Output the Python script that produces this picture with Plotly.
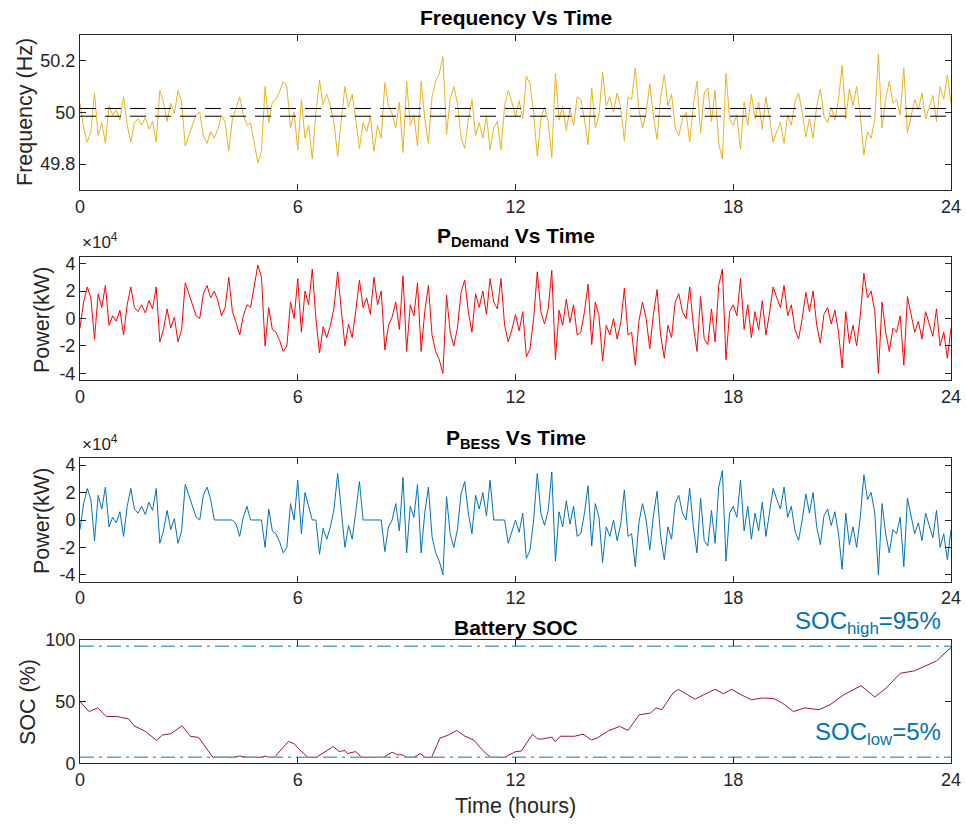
import numpy as np
import plotly.graph_objects as go

# ---------------- data ----------------
hours_tick = [0, 6, 12, 18, 24]

# frequency (Hz), sampled every 0.1 h
frequency_hz = [
    50.035, 49.94, 49.885, 49.925, 50.075, 49.91, 49.96, 49.88, 50.025, 49.99,
    50.01, 49.97, 50.06, 49.95, 49.885, 49.96, 49.975, 49.95, 49.98, 49.935,
    49.965, 49.885, 50.085, 50.04, 49.965, 50.035, 49.995, 50.085, 50.04, 49.87,
    49.91, 49.95, 49.99, 50.0, 49.91, 49.88, 49.925, 49.9, 49.935, 49.99,
    49.96, 49.85, 49.975, 50.015, 50.06, 49.99, 49.95, 49.96, 49.875, 49.805,
    49.85, 50.1, 49.96, 50.04, 50.05, 50.08, 50.12, 50.1, 49.94, 50.0,
    49.855, 50.05, 49.9, 49.95, 49.82, 50.0, 50.125, 50.03, 50.07, 50.025,
    49.96, 49.83, 49.97, 50.1, 50.02, 50.07, 49.97, 49.86, 49.96, 49.925,
    49.985, 49.85, 49.95, 49.9, 50.115, 50.025, 49.995, 49.94, 50.04, 49.845,
    50.12, 49.95, 49.99, 49.87, 50.12, 49.975, 49.88, 50.06, 50.12, 50.15,
    50.215, 49.915, 50.05, 50.1, 50.035, 49.905, 49.86, 49.975, 50.05, 49.91,
    49.96, 49.9, 49.985, 49.855, 49.94, 49.965, 49.855, 50.025, 50.085, 50.04,
    49.985, 50.045, 49.975, 50.14, 50.11, 50.0, 49.83, 49.975, 50.02, 49.965,
    49.825, 50.15, 49.97, 50.025, 49.93, 50.015, 49.95, 50.06, 50.05, 49.975,
    49.875, 50.095, 49.94, 49.99, 50.155, 50.025, 50.06, 50.0, 50.075, 50.015,
    49.89, 50.06, 50.05, 50.17, 50.01, 49.94, 50.0, 50.11, 49.985, 49.895,
    50.06, 50.145, 50.025, 50.07, 49.94, 49.91, 49.975, 50.0, 49.885, 50.025,
    50.12, 49.92, 50.075, 50.095, 49.965, 50.085, 49.88, 49.82, 50.15, 49.975,
    49.95, 49.99, 49.855, 50.04, 49.95, 50.07, 49.975, 50.04, 49.935, 50.06,
    49.98, 49.885, 49.925, 49.96, 49.88, 49.99, 49.95, 50.04, 50.075, 50.0,
    49.905, 49.975, 49.9, 50.025, 50.09, 49.985, 49.96, 50.02, 49.97, 50.05,
    50.18, 49.975, 50.09, 50.025, 50.1, 49.99, 49.835, 49.925, 49.9, 49.975,
    50.225, 49.94, 50.05, 50.12, 50.035, 50.05, 49.99, 50.17, 49.92, 49.985,
    50.05, 50.01, 50.075, 49.975, 50.025, 50.065, 49.965, 50.1, 50.05, 50.145,
    50.035,
]

# demand power (x 10^4 kW), every 0.1 h
p_demand_1e4 = [
    -0.7, 1.2, 2.3, 1.5, -1.5, 1.8, 0.8, 2.4, -0.5, 0.2,
    -0.2, 0.6, -1.2, 1.0, 2.3, 0.8, 0.5, 1.0, 0.4, 1.3,
    0.7, 2.3, -1.7, -0.8, 0.7, -0.7, 0.1, -1.7, -0.8, 2.6,
    1.8, 1.0, 0.2, 0.0, 1.8, 2.4, 1.5, 2.0, 1.3, 0.2,
    0.8, 3.0, 0.5, -0.3, -1.2, 0.2, 1.0, 0.8, 2.5, 3.9,
    3.0, -2.0, 0.8, -0.8, -1.0, -1.6, -2.4, -2.0, 1.2, 0.0,
    2.9, -1.0, 2.0, 1.0, 3.6, 0.0, -2.5, -0.6, -1.4, -0.5,
    0.8, 3.4, 0.6, -2.0, -0.4, -1.4, 0.6, 2.8, 0.8, 1.5,
    0.3, 3.0, 1.0, 2.0, -2.3, -0.5, 0.1, 1.2, -0.8, 3.1,
    -2.4, 1.0, 0.2, 2.6, -2.4, 0.5, 2.4, -1.2, -2.4, -3.0,
    -4.0, 1.7, -1.0, -2.0, -0.7, 1.9, 2.8, 0.5, -1.0, 1.8,
    0.8, 2.0, 0.3, 2.9, 1.2, 0.7, 2.9, -0.5, -1.7, -0.8,
    0.3, -0.9, 0.5, -2.8, -2.2, 0.0, 3.4, 0.5, -0.4, 0.7,
    3.5, -3.0, 0.6, -0.5, 1.4, -0.3, 1.0, -1.2, -1.0, 0.5,
    2.5, -1.9, 1.2, 0.2, -3.1, -0.5, -1.2, 0.0, -1.5, -0.3,
    2.2, -1.2, -1.0, -3.4, -0.2, 1.2, 0.0, -2.2, 0.3, 2.1,
    -1.2, -2.9, -0.5, -1.4, 1.2, 1.8, 0.5, 0.0, 2.3, -0.5,
    -2.4, 1.6, -1.5, -1.9, 0.7, -1.7, 2.4, 3.6, -3.0, 0.5,
    1.0, 0.2, 2.9, -0.8, 1.0, -1.4, 0.5, -0.8, 1.3, -1.2,
    0.4, 2.3, 1.5, 0.8, 2.4, 0.2, 1.0, -0.8, -1.5, 0.0,
    1.9, 0.5, 2.0, -0.5, -1.8, 0.3, 0.8, -0.4, 0.6, -1.0,
    -3.6, 0.5, -1.8, -0.5, -2.0, 0.2, 3.3, 1.5, 2.0, 0.5,
    -4.0, 1.2, -1.0, -2.4, -0.7, -1.0, 0.2, -3.4, 1.6, 0.3,
    -1.0, -0.2, -1.5, 0.5, -0.5, -1.3, 0.7, -2.0, -1.0, -2.9,
    -0.7,
]

# BESS power (x 10^4 kW), every 0.1 h
p_bess_1e4 = [
    -0.7, 1.2, 2.3, 1.5, -1.5, 1.8, 0.8, 2.4, -0.5, 0.2,
    -0.2, 0.6, -1.2, 1.0, 2.3, 0.8, 0.5, 1.0, 0.4, 1.3,
    0.7, 2.3, -1.7, -0.8, 0.7, -0.7, 0.1, -1.7, -0.8, 2.6,
    1.8, 1.0, 0.2, 0.0, 1.8, 2.4, 1.5, 0.0, 0.0, 0.0,
    0.0, 0.0, 0.0, -0.3, -1.2, 0.2, 1.0, 0.0, 0.0, 0.0,
    0.0, -2.0, 0.8, -0.8, -1.0, -1.6, -2.4, -2.0, 1.2, 0.0,
    2.9, -1.0, 2.0, 1.0, 0.0, 0.0, -2.5, -0.6, -1.4, -0.5,
    0.8, 3.4, 0.6, -2.0, -0.4, -1.4, 0.6, 2.8, 0.0, 0.0,
    0.0, 0.0, 0.0, 0.0, -2.3, -0.5, 0.0, 1.2, -0.8, 3.1,
    -2.4, 1.0, 0.2, 2.6, -2.4, 0.5, 2.4, -1.2, -2.4, -3.0,
    -4.0, 1.7, -1.0, -2.0, -0.7, 1.9, 2.8, 0.5, -1.0, 1.8,
    0.8, 2.0, 0.3, 2.9, 0.0, 0.0, 0.0, 0.0, -1.7, -0.8,
    0.0, -0.9, 0.5, -2.8, -2.2, 0.0, 3.4, 0.5, -0.4, 0.7,
    3.5, -3.0, 0.6, -0.5, 1.4, -0.3, 1.0, -1.2, -1.0, 0.5,
    2.5, -1.9, 1.2, 0.2, -3.1, -0.5, -1.2, 0.0, -1.5, -0.3,
    2.2, -1.2, -1.0, -3.4, -0.2, 1.2, 0.0, -2.2, 0.3, 2.1,
    -1.2, -2.9, -0.5, -1.4, 1.2, 1.8, 0.5, 0.0, 2.3, -0.5,
    -2.4, 1.6, -1.5, -1.9, 0.7, -1.7, 2.4, 3.6, -3.0, 0.5,
    1.0, 0.2, 2.9, -0.8, 1.0, -1.4, 0.5, -0.8, 1.3, -1.2,
    0.4, 2.3, 1.5, 0.8, 2.4, 0.2, 1.0, -0.8, -1.5, 0.0,
    1.9, 0.5, 2.0, -0.5, -1.8, 0.3, 0.8, -0.4, 0.6, -1.0,
    -3.6, 0.5, -1.8, -0.5, -2.0, 0.2, 3.3, 1.5, 2.0, 0.5,
    -4.0, 1.2, -1.0, -2.4, -0.7, -1.0, 0.2, -3.4, 1.6, 0.3,
    -1.0, -0.2, -1.5, 0.5, -0.5, -1.3, 0.7, -2.0, -1.0, -2.9,
    -0.7,
]

# battery state of charge (%)
soc_hours = [
    0, 0.25, 0.49, 0.72, 1.03, 1.34, 1.49, 1.8, 2.11, 2.27, 2.5, 2.81, 3.04, 3.27,
    3.66, 4.2, 4.4, 4.6, 5.0, 5.1, 5.2, 5.36, 5.74, 5.9, 6.05, 6.28, 6.52, 6.98,
    7.14, 7.3, 7.37, 7.6, 7.75, 8.37, 8.6, 8.75, 8.88, 9.0, 9.2, 9.38, 9.5, 9.69,
    9.92, 10.15, 10.38, 10.61, 10.85, 11.08, 11.31, 11.7, 12.01, 12.16, 12.47,
    12.6, 12.7, 13.01, 13.09, 13.24, 13.63, 13.86, 14.09, 14.25, 14.56, 14.87,
    15.1, 15.41, 15.72, 15.87, 16.03, 16.34, 16.49, 16.72, 16.95, 17.19, 17.5,
    17.73, 17.96, 18.19, 18.5, 18.81, 19.12, 19.35, 19.66, 19.97, 20.36, 20.67,
    21.05, 21.52, 21.9, 22.21, 22.6, 22.99, 23.6, 24.0,
]
soc_pct = [
    50, 42, 45, 38, 38, 36, 30.5, 26, 18.6, 23, 24, 30.5, 22, 21,
    5, 5, 6, 5, 5, 6, 5, 5, 17.7, 16, 11, 5, 5, 13.7,
    9.6, 10.5, 8, 9.6, 5, 5, 9, 7, 7, 5, 5, 8, 5, 5,
    20.5, 23, 26.7, 22, 19, 11, 5, 5, 9.6, 10, 23.7,
    20, 19.6, 21.3, 17.7, 22, 22, 23.7, 19, 20.5, 26.4, 30,
    26.7, 39.4, 40.8, 45, 43.5, 57, 60, 55.7, 52, 55.7, 60,
    56.5, 60, 56, 51.6, 53, 52.5, 49, 42, 45, 43.5, 47.6,
    55.7, 63, 53.8, 61, 73, 75, 83, 94,
]

freq_band = [49.985, 50.015]
soc_limits = [5, 95]

t = np.linspace(0, 24, len(frequency_hz))

# ---------------- styling ----------------
FONT = "Liberation Sans, Arial, sans-serif"
AX = "#262626"
W, H = 967, 824
XD = [80 / W, 951 / W]

def py(px):
    return 1 - px / H

doms = {
    1: [py(190), py(34.7)],
    2: [py(380.3), py(256.7)],
    3: [py(581.7), py(458.3)],
    4: [py(763.4), py(640)],
}

fig = go.Figure()

fig.add_trace(go.Scatter(x=t, y=frequency_hz, mode="lines",
                         line=dict(color="#EDB120", width=1), xaxis="x", yaxis="y"))
for fb in freq_band:
    fig.add_trace(go.Scatter(x=[0, 24], y=[fb, fb], mode="lines",
                             line=dict(color="black", width=1, dash="16px,9px"),
                             xaxis="x", yaxis="y"))
fig.add_trace(go.Scatter(x=t, y=p_demand_1e4, mode="lines",
                         line=dict(color="#FF0000", width=1), xaxis="x2", yaxis="y2"))
fig.add_trace(go.Scatter(x=t, y=p_bess_1e4, mode="lines",
                         line=dict(color="#0072BD", width=1), xaxis="x3", yaxis="y3"))
fig.add_trace(go.Scatter(x=soc_hours, y=soc_pct, mode="lines",
                         line=dict(color="#A2142F", width=1), xaxis="x4", yaxis="y4"))
for sl in soc_limits:
    fig.add_trace(go.Scatter(x=[0, 24], y=[sl, sl], mode="lines",
                             line=dict(color="#5BA6D8", width=1.5, dash="14px,5px,3px,5px"),
                             xaxis="x4", yaxis="y4"))


def xaxis(i):
    return dict(domain=XD, range=[0, 24], tickvals=hours_tick, ticks="inside",
                ticklen=6, tickcolor=AX, mirror="allticks", showline=True,
                linecolor=AX, linewidth=1, showgrid=False, zeroline=False,
                automargin=False,
                tickfont=dict(family=FONT, size=18, color=AX),
                anchor="y" if i == 1 else f"y{i}")


def yaxis(i, rng, tv, tt):
    return dict(domain=doms[i], range=rng, tickvals=tv, ticktext=tt, ticks="inside",
                ticklen=6, tickcolor=AX, mirror="allticks", showline=True,
                linecolor=AX, linewidth=1, showgrid=False, zeroline=False,
                automargin=False,
                tickfont=dict(family=FONT, size=18, color=AX),
                anchor="x" if i == 1 else f"x{i}")

pw = [-4, -2, 0, 2, 4]
layout = dict(
    width=W, height=H, margin=dict(l=0, r=0, t=0, b=0, autoexpand=False),
    paper_bgcolor="white", plot_bgcolor="white", showlegend=False,
    font=dict(family=FONT, color=AX),
    xaxis=xaxis(1), xaxis2=xaxis(2), xaxis3=xaxis(3), xaxis4=xaxis(4),
    yaxis=yaxis(1, [49.7, 50.3], [49.8, 50, 50.2], ["49.8", "50", "50.2"]),
    yaxis2=yaxis(2, [-4.5, 4.5], pw, [str(v) for v in pw]),
    yaxis3=yaxis(3, [-4.5, 4.5], pw, [str(v) for v in pw]),
    yaxis4=yaxis(4, [0, 100], [0, 50, 100], ["0", "50", "100"]),
)
fig.update_layout(**layout)

ann = []
def A(text, x, y, size, color="black", xanchor="center", yanchor="middle", angle=0):
    ann.append(dict(text=text, x=x / W, y=py(y), xref="paper", yref="paper",
                    showarrow=False, xanchor=xanchor, yanchor=yanchor,
                    textangle=angle, font=dict(family=FONT, size=size, color=color)))

A("<b>Frequency Vs Time</b>", 515.5, 18, 21)
A("<b>P<sub>Demand</sub> Vs Time</b>", 515.5, 252, 21, yanchor="bottom")
A("<b>P<sub>BESS</sub> Vs Time</b>", 515.5, 454, 21, yanchor="bottom")
A("<b>Battery SOC</b>", 515.5, 627, 21)
A("×10<sup>4</sup>", 80, 254, 17, color=AX, xanchor="left", yanchor="bottom")
A("×10<sup>4</sup>", 80, 456, 17, color=AX, xanchor="left", yanchor="bottom")
A("Frequency (Hz)", 25, 112, 21.5, color=AX, angle=-90)
A("Power(kW)", 42, 320, 21.5, color=AX, angle=-90)
A("Power(kW)", 42, 521, 21.5, color=AX, angle=-90)
A("SOC (%)", 28, 702, 21.5, color=AX, angle=-90)
A("Time (hours)", 515.5, 806, 21.5, color=AX)
A("SOC<sub>high</sub>=95%", 943, 622, 24, color="#0072BD", xanchor="right")
A("SOC<sub>low</sub>=5%", 943, 733, 24, color="#0072BD", xanchor="right")
fig.update_layout(annotations=ann)

fig.write_html("out.html", config={"displayModeBar": False},
               post_script="document.body.style.margin='0';document.body.style.padding='0';")
